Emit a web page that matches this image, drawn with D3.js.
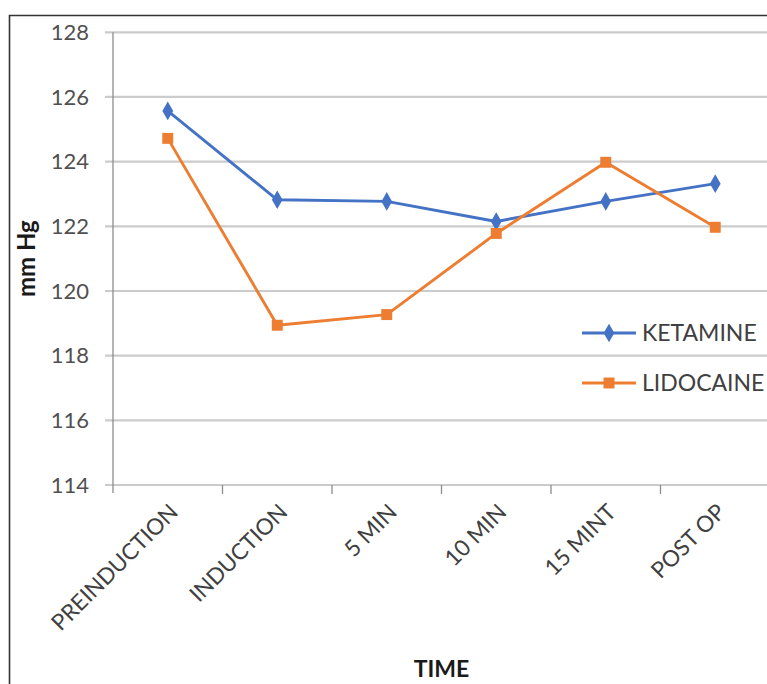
<!DOCTYPE html>
<html>
<head>
<meta charset="utf-8">
<script src="https://cdn.jsdelivr.net/npm/d3@7/dist/d3.min.js"></script>
<style>
  html, body { margin: 0; padding: 0; background: #fff; }
  svg { display: block; }
  text { font-family: Lato, "Open Sans", sans-serif; }
</style>
</head>
<body>
<svg id="chart" width="767" height="684"></svg>
<script>
// Time points of the measurement
const categories = ["PREINDUCTION", "INDUCTION", "5 MIN", "10 MIN", "15 MINT", "POST OP"];
// Mean arterial pressure (mm Hg) per group
const ketamine = [125.57, 122.82, 122.77, 122.15, 122.77, 123.32];
const lidocaine = [124.72, 118.94, 119.27, 121.78, 123.98, 121.97];
const yTicks = [114, 116, 118, 120, 122, 124, 126, 128];
const seriesNames = ["KETAMINE", "LIDOCAINE"];

const svg = d3.select("#chart");
const W = 767, H = 684;
const plot = { left: 113, right: 770, top: 32.3, bottom: 485 };

// Outer frame of the chart
svg.append("path")
  .attr("d", `M9.5,${H} V15.5 H${W}`)
  .attr("fill", "none").attr("stroke", "#333").attr("stroke-width", 1.6);

const x = d3.scaleBand().domain(categories).range([plot.left, plot.right]).paddingInner(0).paddingOuter(0);
const y = d3.scaleLinear().domain([114, 128]).range([plot.bottom, plot.top]);

// Horizontal gridlines
svg.append("g").selectAll("line").data(yTicks).join("line")
  .attr("x1", plot.left - 8).attr("x2", W)
  .attr("y1", d => y(d)).attr("y2", d => y(d))
  .attr("stroke", "#cbcbcb").attr("stroke-width", 2.2);

// Y axis labels
const yAxis = d3.axisLeft(y).tickValues(yTicks).tickSize(0).tickPadding(24);
const gy = svg.append("g").attr("transform", `translate(${plot.left},0)`).call(yAxis);
gy.select(".domain").remove();
gy.selectAll("text").attr("font-size", 22).attr("fill", "#505050")
  .style("font-family", "Lato, sans-serif");

// Vertical axis line
svg.append("line")
  .attr("x1", plot.left).attr("x2", plot.left)
  .attr("y1", plot.top).attr("y2", plot.bottom + 8)
  .attr("stroke", "#8c8c8c").attr("stroke-width", 1.3);

// Category tick marks at band boundaries
const bounds = categories.map(c => x(c)).concat([x(categories[categories.length - 1]) + x.bandwidth()]);
svg.append("g").selectAll("line").data(bounds.slice(1)).join("line")
  .attr("x1", d => d).attr("x2", d => d)
  .attr("y1", plot.bottom).attr("y2", plot.bottom + 9)
  .attr("stroke", "#8c8c8c").attr("stroke-width", 1.3);

// Rotated category labels
const cx = d => x(d) + x.bandwidth() / 2;
svg.append("g").selectAll("text").data(categories).join("text")
  .attr("transform", d => `translate(${cx(d) + 6},${plot.bottom + 23}) rotate(-45)`)
  .attr("text-anchor", "end")
  .attr("dy", "0.35em")
  .attr("font-size", 22.5).attr("fill", "#404040")
  .text(d => d);

// Axis titles
svg.append("text")
  .attr("x", (plot.left + plot.right) / 2).attr("y", 677)
  .attr("text-anchor", "middle").attr("font-size", 23).attr("font-weight", "bold")
  .attr("fill", "#1a1a1a").text("TIME");
svg.append("text")
  .attr("transform", `translate(35,${(plot.top + plot.bottom) / 2}) rotate(-90)`)
  .attr("text-anchor", "middle").attr("font-size", 24).attr("font-weight", "bold")
  .attr("fill", "#1a1a1a").text("mm Hg");

const colors = { KETAMINE: "#4472C4", LIDOCAINE: "#ED7D31" };
const line = d3.line().x((d, i) => cx(categories[i])).y(d => y(d));
const diamond = d3.symbol().type(d3.symbolDiamond).size(100);
const square = d3.symbol().type(d3.symbolSquare).size(120);

const series = [
  { name: "KETAMINE", values: ketamine, sym: diamond },
  { name: "LIDOCAINE", values: lidocaine, sym: square }
];

series.forEach(s => {
  svg.append("path").datum(s.values)
    .attr("d", line).attr("fill", "none")
    .attr("stroke", colors[s.name]).attr("stroke-width", 2.9)
    .attr("stroke-linejoin", "round");
  svg.append("g").selectAll("path").data(s.values).join("path")
    .attr("transform", (d, i) => `translate(${cx(categories[i])},${y(d)})`)
    .attr("d", s.sym).attr("fill", colors[s.name]);
});

// Legend
const legend = svg.append("g");
series.forEach((s, i) => {
  const ly = 333 + i * 50;
  legend.append("line").attr("x1", 582).attr("x2", 636).attr("y1", ly).attr("y2", ly)
    .attr("stroke", colors[s.name]).attr("stroke-width", 2.9);
  legend.append("path").attr("transform", `translate(609,${ly})`)
    .attr("d", s.sym).attr("fill", colors[s.name]);
  legend.append("text").attr("x", 642).attr("y", ly).attr("dy", "0.36em")
    .attr("font-size", 23).attr("fill", "#404040").text(seriesNames[i]);
});
</script>
</body>
</html>
